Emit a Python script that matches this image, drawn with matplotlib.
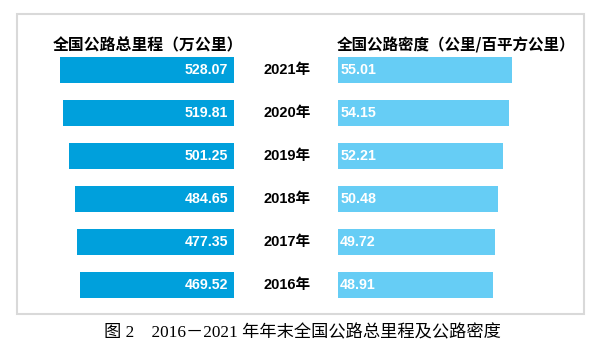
import matplotlib
matplotlib.use("Agg")
from matplotlib import pyplot as plt
from matplotlib.patches import Rectangle
import matplotlib.transforms as mtransforms

years = ["2021年", "2020年", "2019年", "2018年", "2017年", "2016年"]
mileage = [528.07, 519.81, 501.25, 484.65, 477.35, 469.52]
density = [55.01, 54.15, 52.21, 50.48, 49.72, 48.91]
title_left = "全国公路总里程（万公里）"
title_right = "全国公路密度（公里/百平方公里）"
caption = "图 2　2016－2021 年年末全国公路总里程及公路密度"

W, H = 598, 351
sans = ["Liberation Sans", "Noto Sans CJK SC", "DejaVu Sans"]
cjk = ["Noto Sans CJK SC", "DejaVu Sans"]
serif = ["Liberation Serif", "Noto Sans CJK SC"]


def px_box(x0, y0, x1, y1):
    # pixel box (top-left origin) -> figure fraction
    return [x0 / W, 1 - y1 / H, (x1 - x0) / W, (y1 - y0) / H]


fig = plt.figure(figsize=(W / 100, H / 100), dpi=100)

# frame
fig.patches.append(Rectangle((16.5 / W, 1 - 313.5 / H), (584 - 16.5) / W, (313.5 - 14) / H,
                             transform=fig.transFigure, fill=False,
                             edgecolor="#d9d9d9", linewidth=1.5))

ypos = list(range(len(years)))
top, bottom = 70 - 21.5, 285 + 21.5

# left axis: mileage, growing leftwards
ax1 = fig.add_axes(px_box(234 - 600 * 0.329, top, 234, bottom))
ax1.barh(ypos, mileage, height=0.6, color="#00a0dc")
ax1.set_xlim(600, 0)
ax1.set_ylim(5.5, -0.5)
ax1.axis("off")
for y, v in zip(ypos, mileage):
    ax1.annotate(f"{v:.2f}", (0, y), xytext=(-4, 0), textcoords="offset points",
                 ha="right", va="center", color="white", fontsize=10.2,
                 fontweight="bold", family=sans)

# right axis: density
ax2 = fig.add_axes(px_box(338, top, 338 + 70 * 3.165, bottom))
ax2.barh(ypos, density, height=0.6, color="#66cdf5")
ax2.set_xlim(0, 70)
ax2.set_ylim(5.5, -0.5)
ax2.axis("off")
for y, v in zip(ypos, density):
    ax2.annotate(f"{v:.2f}", (0, y), xytext=(1.5, 0), textcoords="offset points",
                 ha="left", va="center", color="white", fontsize=10.3,
                 fontweight="bold", family=sans)

# year labels between the two bar groups
trans = mtransforms.blended_transform_factory(fig.transFigure, ax2.transData)
for y, yr in zip(ypos, years):
    fig.text(287 / W, y, yr, transform=trans, ha="center", va="center",
             fontsize=10.5, fontweight="bold", family=sans)

fig.text(147.5 / W, 1 - 45 / H, title_left, ha="center", va="center",
         fontsize=11.4, fontweight="bold", family=cjk)
fig.text(456 / W, 1 - 45 / H, title_right, ha="center", va="center",
         fontsize=11.2, fontweight="bold", family=cjk)

fig.text(302 / W, 1 - 333 / H, caption, ha="center", va="center",
         fontsize=12.4, family=serif)

plt.savefig("out.png", dpi=100)
